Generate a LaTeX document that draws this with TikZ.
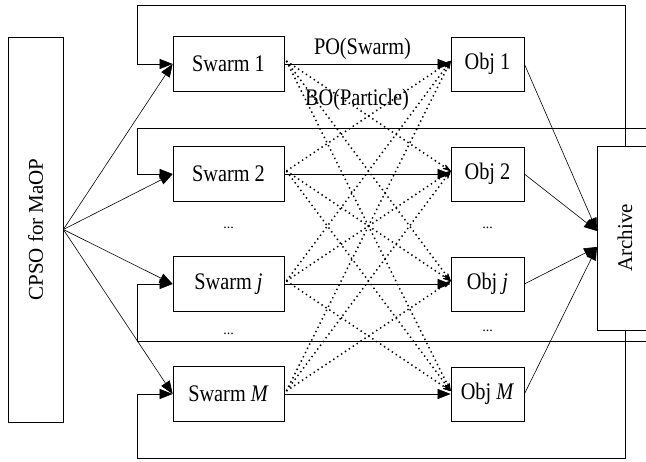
\documentclass[tikz,border=0pt]{standalone}
\usepackage{fontspec}
\usepackage{graphicx}
\setmainfont{Liberation Serif}
\usetikzlibrary{arrows.meta}
% labels are set slightly taller than wide
\newcommand\tallbox[1]{\scalebox{1}[1.17]{#1}}
\begin{document}
\begin{tikzpicture}[x=1pt,y=-1pt,
  txt/.style={font=\fontsize{20.3}{24}\selectfont},
  rtxt/.style={font=\fontsize{21}{25}\selectfont, rotate=90},
  box/.style={draw, line width=0.7pt, inner sep=0pt, txt},
  swarmbox/.style={box, minimum width=111pt, minimum height=55pt},
  objbox/.style={box, minimum width=73pt, minimum height=54pt},
  conn/.style={line width=0.6pt},
  bigtip/.style={conn, -{Triangle[length=13pt,width=10pt]}},
  dotarrow/.style={line width=1.5pt, dash pattern=on 1.4pt off 3.3pt,
    -{Stealth[length=10pt,width=6pt,round,line width=0.8pt]}},
  dotsfont/.style={font=\fontsize{14}{16}\selectfont}
]
\useasboundingbox (0,0) rectangle (646,462);

% main blocks
\node[box, minimum width=55pt, minimum height=385pt] (cpso) at (35.5,229.5) {};
\node[rtxt] at (cpso.center) {CPSO for MaOP};
\node[box, fill=white, minimum width=56pt, minimum height=184pt] (arch) at (625,238) {};
\node[rtxt] at (arch.center) {Archive};

\node[swarmbox] (s1) at (228.5,64)  {\tallbox{Swarm 1}};
\node[swarmbox] (s2) at (228.5,174) {\tallbox{Swarm 2}};
\node[swarmbox] (sj) at (228.5,284) {\tallbox{Swarm \textit{j}}};
\node[swarmbox] (sm) at (228.5,394) {\tallbox{Swarm \textit{M}}};

\node[objbox] (o1) at (487.5,64)  {\tallbox{Obj 1}};
\node[objbox] (o2) at (487.5,174) {\tallbox{Obj 2}};
\node[objbox] (oj) at (487.5,284) {\tallbox{Obj \textit{j}}};
\node[objbox] (om) at (487.5,394) {\tallbox{Obj \textit{M}}};

\node[dotsfont] (d1) at (228.5,228) {...};
\node[dotsfont] (d2) at (228.5,334) {...};
\node[dotsfont] (d3) at (487.5,228) {...};
\node[dotsfont] (d4) at (487.5,331) {...};

% feedback loops
\coordinate (xl) at (137,0);
\coordinate (xr) at (625,0);
\coordinate (e2) at (646,128);
\coordinate (ej) at (646,341);
\draw[bigtip] (arch.north -| xr) -- (625,5) -- (137,5) -- (xl |- s1.west) -- (s1.west);
\draw[bigtip] (e2) -- (xl |- e2) -- (xl |- s2.west) -- (s2.west);
\draw[bigtip] (ej) -- (xl |- ej) -- (xl |- sj.west) -- (sj.west);
\draw[bigtip] (arch.south -| xr) -- (625,458) -- (137,458) -- (xl |- sm.west) -- (sm.west);

% fan-out from the framework
\foreach \s in {s1,s2,sj,sm}
  \draw[bigtip] (cpso.east) -- (\s.west);

% dotted cross links between swarms and the other objectives
\foreach \s/\o in {s1/o2,s1/oj,s1/om, s2/o1,s2/oj,s2/om,
                   sj/o1,sj/o2,sj/om, sm/o1,sm/o2,sm/oj}
  \draw[dotarrow] ([shift={(2pt,3pt)}]\s.east) -- ([yshift=3pt]\o.west);

% direct links
\draw[bigtip] (s1.east) -- node[txt, above=1pt, pos=0.47] (po) {\tallbox{PO(Swarm)}} (o1.west);
\draw[bigtip] (s2.east) -- (o2.west);
\draw[bigtip] (sj.east) -- (oj.west);
\draw[bigtip] (sm.east) -- (om.west);
\node[txt] (bo) at (357,100) {\tallbox{BO(Particle)}};

% objectives to archive
\coordinate (a1) at (597,231);
\coordinate (a2) at (597,247);
\draw[bigtip] (o1.east) -- (a1);
\draw[bigtip] (o2.east) -- (a1);
\draw[bigtip] (oj.east) -- (a2);
\draw[bigtip] (om.east) -- (a2);
\end{tikzpicture}
\end{document}
